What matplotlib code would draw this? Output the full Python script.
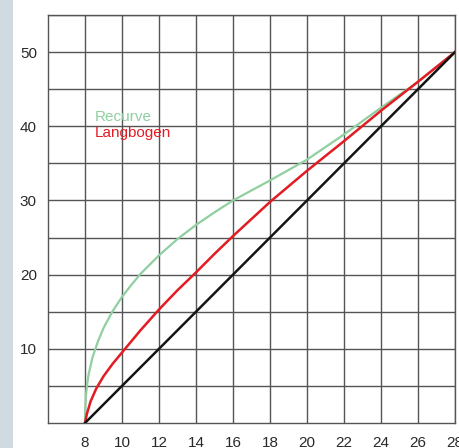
import matplotlib
matplotlib.use("Agg")
import matplotlib.pyplot as plt
from matplotlib.patches import Rectangle

# Data
x_ticks = [8, 10, 12, 14, 16, 18, 20, 22, 24, 26, 28]
y_ticks = [10, 20, 30, 40, 50]

recurve_x = [8, 8.01, 8.05, 8.12, 8.2, 8.4, 8.7, 9, 9.5, 10, 10.5, 11, 12, 13, 14, 15, 16, 18, 20, 22, 24, 26, 28]
recurve_y = [0, 1.9, 3.7, 5.3, 6.6, 8.8, 11.0, 12.8, 15.1, 17.0, 18.6, 20.1, 22.6, 24.8, 26.7, 28.4, 30.0, 32.7, 35.5, 38.9, 42.5, 46.0, 50]

langbogen_x = [8, 8.1, 8.3, 8.6, 9, 9.5, 10, 10.5, 11, 12, 13, 14, 15, 16, 18, 20, 22, 24, 26, 28]
langbogen_y = [0, 1.2, 2.9, 4.6, 6.3, 8.0, 9.5, 11.0, 12.5, 15.3, 17.9, 20.3, 22.8, 25.2, 29.8, 34.0, 38.0, 42.1, 46.0, 50]

reference_x = [8, 28]
reference_y = [0, 50]

labels = ["Recurve", "Langbogen"]

plt.rcParams['font.family'] = ['Liberation Sans', 'DejaVu Sans']

fig = plt.figure(figsize=(4.59, 4.48), dpi=100)
fig.patch.set_facecolor('white')
fig.patches.append(Rectangle((0, 0), 13 / 459, 1, transform=fig.transFigure,
                             facecolor='#cfdbe1', edgecolor='none', zorder=0))

ax = fig.add_axes([48 / 459, 1 - 423 / 448, (455 - 48) / 459, (423 - 15) / 448])
ax.set_xlim(6, 28)
ax.set_ylim(0, 55)

grid_c = '#555555'
ax.set_xticks(x_ticks)
ax.set_yticks(y_ticks)
ax.set_yticks([5, 15, 25, 35, 45, 55], minor=True)
ax.grid(True, which='both', color=grid_c, linewidth=1.0, zorder=1)
ax.set_axisbelow(True)
for s in ax.spines.values():
    s.set_color(grid_c)
    s.set_linewidth(1.0)
ax.tick_params(which='both', length=0)
ax.tick_params(axis='y', pad=8, labelsize=11, labelcolor='#2a2a2a')
ax.tick_params(axis='x', pad=9, labelsize=11, labelcolor='#2a2a2a')

ax.plot(recurve_x, recurve_y, color='#8fcfa0', linewidth=1.6, zorder=3,
        solid_joinstyle='round')
ax.plot(langbogen_x, langbogen_y, color='#e31b23', linewidth=1.8, zorder=4,
        solid_joinstyle='round')
ax.plot(reference_x, reference_y, color='#151515', linewidth=1.8, zorder=5)

ax.text(8.54, 40.7, labels[0], color='#8fcfa0', fontsize=11, zorder=6)
ax.text(8.54, 38.5, labels[1], color='#e31b23', fontsize=11, zorder=6)

fig.savefig('out.png', dpi=100)
